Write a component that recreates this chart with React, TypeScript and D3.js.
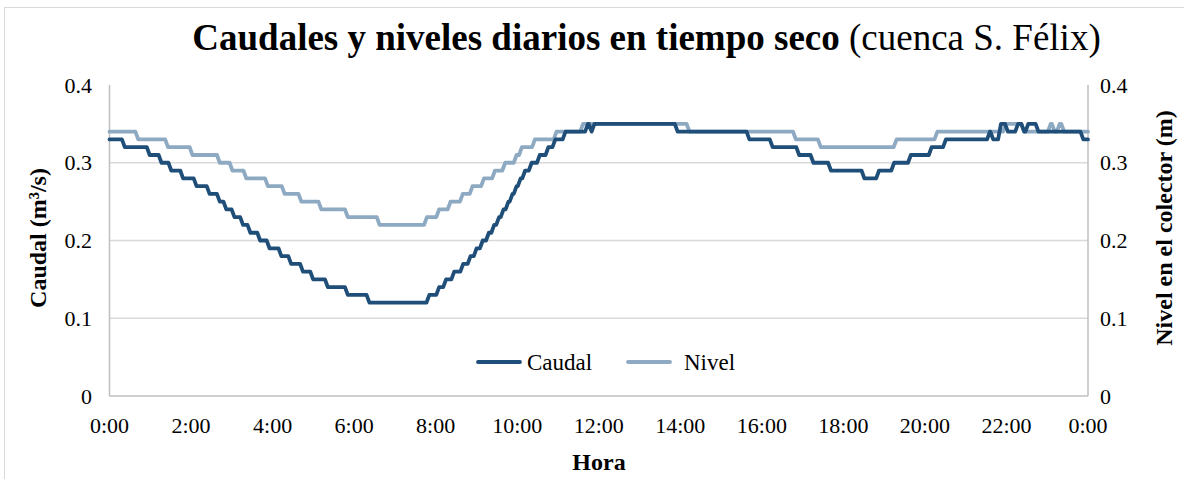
import React from 'react';
import * as d3 from 'd3';

// ---- Data ----
// hour at which each level starts, and the level (m3/s)
const caudalHoras = [0, 0.34, 0.95, 1.24, 1.48, 1.77, 2.1, 2.42, 2.67, 2.83, 3.03, 3.24, 3.42, 3.66, 3.89, 4.18, 4.42, 4.71, 4.96, 5.32, 5.81, 6.34,
  7.81, 8.05, 8.22, 8.42, 8.64, 8.82, 8.97, 9.12, 9.27, 9.4, 9.52, 9.63, 9.75, 9.85, 9.95, 10.05, 10.16, 10.32, 10.52, 10.73, 10.9, 11.15, 11.7, 11.79, 11.86,
  13.9, 15.66, 16.23, 16.88, 17.23, 17.66, 18.48, 18.84, 19.21, 19.62, 20.13, 20.48, 21.56, 21.64, 21.83, 22.0, 22.25, 22.4, 22.5, 22.75, 23.85];
const caudalValores = [0.33, 0.32, 0.31, 0.30, 0.29, 0.28, 0.27, 0.26, 0.25, 0.24, 0.23, 0.22, 0.21, 0.20, 0.19, 0.18, 0.17, 0.16, 0.15, 0.14, 0.13, 0.12,
  0.13, 0.14, 0.15, 0.16, 0.17, 0.18, 0.19, 0.20, 0.21, 0.22, 0.23, 0.24, 0.25, 0.26, 0.27, 0.28, 0.29, 0.30, 0.31, 0.32, 0.33, 0.34, 0.35, 0.34, 0.35,
  0.34, 0.33, 0.32, 0.31, 0.30, 0.29, 0.28, 0.29, 0.30, 0.31, 0.32, 0.33, 0.34, 0.33, 0.35, 0.34, 0.35, 0.34, 0.35, 0.34, 0.33];

const nivelHoras = [0, 0.67, 1.4, 2.0, 2.67, 2.98, 3.32, 3.85, 4.26, 4.67, 5.16, 5.81, 6.59,
  7.75, 8.05, 8.33, 8.63, 8.87, 9.15, 9.42, 9.67, 9.95, 10.08, 10.4, 10.93, 11.58,
  14.19, 16.8, 17.41, 19.27, 20.27, 21.95, 22.4, 23.05, 23.15, 23.27, 23.38];
const nivelValores = [0.34, 0.33, 0.32, 0.31, 0.30, 0.29, 0.28, 0.27, 0.26, 0.25, 0.24, 0.23, 0.22,
  0.23, 0.24, 0.25, 0.26, 0.27, 0.28, 0.29, 0.30, 0.31, 0.32, 0.33, 0.34, 0.35,
  0.34, 0.33, 0.32, 0.33, 0.34, 0.35, 0.34, 0.35, 0.34, 0.35, 0.34];

const horaTicks = [0, 2, 4, 6, 8, 10, 12, 14, 16, 18, 20, 22, 24];
const horaLabels = ['0:00', '2:00', '4:00', '6:00', '8:00', '10:00', '12:00', '14:00', '16:00', '18:00', '20:00', '22:00', '0:00'];
const valorTicks = [0, 0.1, 0.2, 0.3, 0.4];
const valorLabels = ['0', '0.1', '0.2', '0.3', '0.4'];

const FONT = "'Liberation Serif', 'Times New Roman', serif";
const C_CAUDAL = '#1f4e79';
const C_NIVEL = '#8eaac3';

const W = 1184;
const H = 479;
const x = d3.scaleLinear().domain([0, 24]).range([109.5, 1088]);
const y = d3.scaleLinear().domain([0, 0.4]).range([396, 85]);

function stepPath(horas: number[], valores: number[]): string {
  const d = 0.035;
  const pts: [number, number][] = [[horas[0], valores[0]]];
  for (let i = 1; i < horas.length; i++) {
    pts.push([horas[i] - d, valores[i - 1]]);
    pts.push([horas[i] + d, valores[i]]);
  }
  pts.push([24, valores[valores.length - 1]]);
  const line = d3.line<[number, number]>().x((p) => x(p[0])).y((p) => y(p[1]));
  return line(pts) || '';
}

export default function App() {
  const caudalD = stepPath(caudalHoras, caudalValores);
  const nivelD = stepPath(nivelHoras, nivelValores);
  const [x0, x1] = x.range();
  return (
    <svg width={W} height={H} style={{ position: 'absolute', left: 0, top: 0, background: '#fff' }} fontFamily={FONT}>
      <rect x={0} y={0} width={W} height={H} fill="#fff" />
      <rect x={4.5} y={7.5} width={W + 10} height={H + 10} fill="none" stroke="#d9d9d9" strokeWidth={1} />
      {/* gridlines */}
      {valorTicks.slice(1, 4).map((v) => (
        <line key={v} x1={x0} x2={x1} y1={y(v)} y2={y(v)} stroke="#d9d9d9" strokeWidth={1.5} />
      ))}
      {/* axes */}
      <line x1={x0} x2={x0} y1={y(0.4)} y2={y(0)} stroke="#bfbfbf" strokeWidth={1.5} />
      <line x1={x1} x2={x1} y1={y(0.4)} y2={y(0)} stroke="#bfbfbf" strokeWidth={1.5} />
      <line x1={x0} x2={x1} y1={y(0)} y2={y(0)} stroke="#bfbfbf" strokeWidth={1.5} />
      {/* lines */}
      <path d={nivelD} fill="none" stroke={C_NIVEL} strokeWidth={3.8} strokeLinejoin="round" strokeLinecap="round" />
      <path d={caudalD} fill="none" stroke={C_CAUDAL} strokeWidth={3.8} strokeLinejoin="round" strokeLinecap="round" />
      {/* y ticks left */}
      {valorTicks.map((v, i) => (
        <text key={'l' + v} x={92} y={y(v) + 7.5} fontSize={22} textAnchor="end" fill="#000">{valorLabels[i]}</text>
      ))}
      {/* y ticks right */}
      {valorTicks.map((v, i) => (
        <text key={'r' + v} x={1100} y={y(v) + 7.5} fontSize={22} textAnchor="start" fill="#000">{valorLabels[i]}</text>
      ))}
      {/* x ticks */}
      {horaTicks.map((h, i) => (
        <text key={'x' + i} x={x(h)} y={433} fontSize={22} textAnchor="middle" fill="#000">{horaLabels[i]}</text>
      ))}
      {/* titles */}
      <text x={646.5} y={50} fontSize={37} textAnchor="middle" fill="#000">
        <tspan fontWeight="bold">Caudales y niveles diarios en tiempo seco</tspan>
        <tspan> (cuenca S. Félix)</tspan>
      </text>
      <text x={599} y={470} fontSize={24} fontWeight="bold" textAnchor="middle" fill="#000">Hora</text>
      <text transform="translate(46,238) rotate(-90)" fontSize={24} fontWeight="bold" textAnchor="middle" fill="#000">Caudal (m³/s)</text>
      <text transform="translate(1172,228) rotate(-90)" fontSize={24} fontWeight="bold" textAnchor="middle" fill="#000">Nivel en el colector (m)</text>
      {/* legend */}
      <line x1={478} x2={520} y1={362} y2={362} stroke={C_CAUDAL} strokeWidth={3.8} strokeLinecap="round" />
      <text x={527} y={370} fontSize={23} fill="#000">Caudal</text>
      <line x1={628} x2={670} y1={362} y2={362} stroke={C_NIVEL} strokeWidth={3.8} strokeLinecap="round" />
      <text x={684} y={370} fontSize={23} fill="#000">Nivel</text>
    </svg>
  );
}
